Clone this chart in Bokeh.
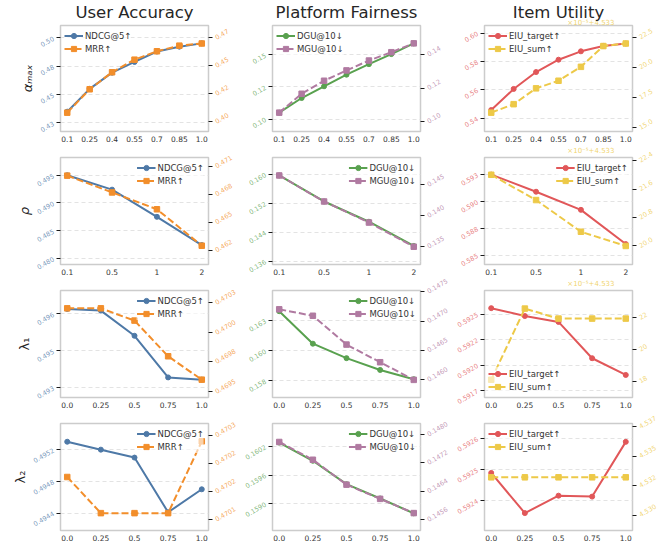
import math
from bokeh.plotting import figure
from bokeh.models import (Range1d, LinearAxis, FixedTicker, CustomJSTickFormatter,
                          Title, ColumnDataSource)
from bokeh.layouts import gridplot
from bokeh.embed import file_html
from bokeh.resources import INLINE

FONT = "DejaVu Sans"

# ---------------- text ----------------
col_titles = ["User Accuracy", "Platform Fairness", "Item Utility"]
row_labels = ["αₘₐₓ", "ρ", "λ₁", "λ₂"]
series_names = [("NDCG@5↑", "MRR↑"), ("DGU@10↓", "MGU@10↓"), ("EIU_target↑", "EIU_sum↑")]
offset_text = "×10⁻⁵+4.533"
eiu_sum_offset = 4.533
eiu_sum_scale = 1e-5

# ---------------- x values ----------------
alpha_x = [0.1, 0.25, 0.4, 0.55, 0.7, 0.85, 1.0]
alpha_x_labels = ["0.1", "0.25", "0.4", "0.55", "0.7", "0.85", "1.0"]
rho_x_labels = ["0.1", "0.5", "1", "2"]
lam_x = [0.0, 0.25, 0.5, 0.75, 1.0]
lam_x_labels = ["0.0", "0.25", "0.5", "0.75", "1.0"]

# ---------------- series values ----------------
alpha_ndcg = [0.4393, 0.4581, 0.4714, 0.4802, 0.4888, 0.4928, 0.4955]
alpha_mrr = [0.4076, 0.4271, 0.4413, 0.4518, 0.4588, 0.4635, 0.4653]
alpha_dgu = [0.1050, 0.1164, 0.1255, 0.1345, 0.1427, 0.1505, 0.1588]
alpha_mgu = [0.1053, 0.1166, 0.1244, 0.1306, 0.1365, 0.1415, 0.1468]
alpha_eiu_target = [0.5457, 0.5606, 0.5725, 0.5812, 0.5871, 0.5909, 0.5926]
alpha_eiu_sum = [4.5331626, 4.5331696, 4.5331827, 4.5331890, 4.5332005, 4.5332177, 4.5332198]

rho_ndcg = [0.4950, 0.4924, 0.4875, 0.4824]
rho_mrr = [0.4700, 0.4682, 0.4664, 0.4625]
rho_dgu = [0.1597, 0.1525, 0.1469, 0.1402]
rho_mgu = [0.1465, 0.1423, 0.1389, 0.1350]
rho_eiu_target = [0.5930, 0.5913, 0.5895, 0.5861]
rho_eiu_sum = [4.5332200, 4.5332129, 4.5332040, 4.5332000]

lam1_ndcg = [0.49618, 0.49612, 0.49523, 0.49376, 0.49368]
lam1_mrr = [0.47025, 0.47025, 0.47014, 0.46982, 0.46961]
lam1_dgu = [0.16378, 0.16108, 0.15988, 0.15890, 0.15813]
lam1_mgu = [0.14720, 0.14709, 0.14660, 0.14630, 0.14600]
lam1_eiu_target = [0.59256, 0.59248, 0.59242, 0.59205, 0.59188]
lam1_eiu_sum = [4.5331811, 4.5332259, 4.5332196, 4.5332196, 4.5332196]

lam2_ndcg = [0.49530, 0.49520, 0.49510, 0.49441, 0.49470]
lam2_mrr = [0.470211, 0.470134, 0.470134, 0.470134, 0.470287]
lam2_dgu = [0.16028, 0.15990, 0.15941, 0.15911, 0.15880]
lam2_mgu = [0.14779, 0.14729, 0.14659, 0.14619, 0.14579]
lam2_eiu_target = [0.592489, 0.592360, 0.592416, 0.592413, 0.592589]
lam2_eiu_sum = [4.5330, 4.5330, 4.5330, 4.5330, 4.5330]

# ---------------- y tick values / labels ----------------
alpha_ndcg_ticks = [0.43, 0.45333, 0.47667, 0.50]
alpha_ndcg_tick_labels = ["0.43", "0.45", "0.48", "0.50"]
alpha_mrr_ticks = [0.40, 0.42333, 0.44667, 0.47]
alpha_mrr_tick_labels = ["0.40", "0.42", "0.45", "0.47"]
alpha_dgu_ticks = [0.10, 0.125, 0.15]
alpha_dgu_tick_labels = ["0.10", "0.12", "0.15"]
alpha_mgu_ticks = [0.10, 0.12, 0.14]
alpha_mgu_tick_labels = ["0.10", "0.12", "0.14"]
alpha_eiut_ticks = [0.54, 0.56, 0.58, 0.60]
alpha_eiut_tick_labels = ["0.54", "0.56", "0.58", "0.60"]
alpha_eius_ticks = [15.0, 17.5, 20.0, 22.5]
alpha_eius_tick_labels = ["15.0", "17.5", "20.0", "22.5"]

rho_ndcg_ticks = [0.480, 0.485, 0.490, 0.495]
rho_ndcg_tick_labels = ["0.480", "0.485", "0.490", "0.495"]
rho_mrr_ticks = [0.462, 0.465, 0.468, 0.471]
rho_mrr_tick_labels = ["0.462", "0.465", "0.468", "0.471"]
rho_dgu_ticks = [0.136, 0.144, 0.152, 0.160]
rho_dgu_tick_labels = ["0.136", "0.144", "0.152", "0.160"]
rho_mgu_ticks = [0.135, 0.140, 0.145]
rho_mgu_tick_labels = ["0.135", "0.140", "0.145"]
rho_eiut_ticks = [0.585, 0.58767, 0.59033, 0.593]
rho_eiut_tick_labels = ["0.585", "0.588", "0.590", "0.593"]
rho_eius_ticks = [20.0, 20.8, 21.6, 22.4]
rho_eius_tick_labels = ["20.0", "20.8", "21.6", "22.4"]

lam1_ndcg_ticks = [0.4934, 0.4947, 0.4960]
lam1_ndcg_tick_labels = ["0.493", "0.495", "0.496"]
lam1_mrr_ticks = [0.4695, 0.46977, 0.47003, 0.4703]
lam1_mrr_tick_labels = ["0.4695", "0.4698", "0.4700", "0.4703"]
lam1_dgu_ticks = [0.158, 0.1605, 0.163]
lam1_dgu_tick_labels = ["0.158", "0.160", "0.163"]
lam1_mgu_ticks = [0.1460, 0.1465, 0.1470, 0.1475]
lam1_mgu_tick_labels = ["0.1460", "0.1465", "0.1470", "0.1475"]
lam1_eiut_ticks = [0.59172, 0.59198, 0.59224, 0.5925]
lam1_eiut_tick_labels = ["0.5917", "0.5920", "0.5922", "0.5925"]
lam1_eius_ticks = [18, 20, 22]
lam1_eius_tick_labels = ["18", "20", "22"]

lam2_ndcg_ticks = [0.4944, 0.4948, 0.4952]
lam2_ndcg_tick_labels = ["0.4944", "0.4948", "0.4952"]
lam2_mrr_ticks = [0.47012, 0.47018, 0.47024, 0.4703]
lam2_mrr_tick_labels = ["0.4701", "0.4702", "0.4702", "0.4703"]
lam2_dgu_ticks = [0.1590, 0.1596, 0.1602]
lam2_dgu_tick_labels = ["0.1590", "0.1596", "0.1602"]
lam2_mgu_ticks = [0.1456, 0.1464, 0.1472, 0.1480]
lam2_mgu_tick_labels = ["0.1456", "0.1464", "0.1472", "0.1480"]
lam2_eiut_ticks = [0.5924, 0.5925, 0.5926]
lam2_eiut_tick_labels = ["0.5924", "0.5925", "0.5926"]
lam2_eius_ticks = [4.530, 4.53233, 4.53467, 4.537]
lam2_eius_tick_labels = ["4.530", "4.532", "4.535", "4.537"]

# ---------------- styling ----------------
BLUE, ORANGE = "#4e79a7", "#f28e2b"
GREEN, PURPLE = "#59a14f", "#b07aa1"
RED, YELLOW = "#e15759", "#edc948"
col_colors = [(BLUE, ORANGE), (GREEN, PURPLE), (RED, YELLOW)]

FRAME_W = 148
frame_h = [106, 107, 107, 107]
border_left = [60, 31, 31]
border_right = [31, 31, 40]
border_top = [23, 13, 13, 13]
border_bottom = [13, 13, 13, 13]

row_x = [
    (alpha_x, alpha_x_labels, (0.055, 1.045)),
    (list(range(len(rho_x_labels))), rho_x_labels, (-0.15, 3.15)),
    (lam_x, lam_x_labels, (-0.05, 1.05)),
    (lam_x, lam_x_labels, (-0.05, 1.05)),
]

def sum_scaled(vals):
    return [(v - eiu_sum_offset) / eiu_sum_scale for v in vals]

# (y1, y2, ticks1, labels1, range1, ticks2, labels2, range2, legend location, offset)
panels = [
    [
        (alpha_ndcg, alpha_mrr, alpha_ndcg_ticks, alpha_ndcg_tick_labels, (0.423, 0.5102),
         alpha_mrr_ticks, alpha_mrr_tick_labels, (0.3919, 0.4803), "top_left", False),
        (alpha_dgu, alpha_mgu, alpha_dgu_ticks, alpha_dgu_tick_labels, (0.0904, 0.1727),
         alpha_mgu_ticks, alpha_mgu_tick_labels, (0.094, 0.1575), "top_left", False),
        (alpha_eiu_target, sum_scaled(alpha_eiu_sum), alpha_eiut_ticks, alpha_eiut_tick_labels, (0.5306, 0.6053),
         alpha_eius_ticks, alpha_eius_tick_labels, (14.70, 23.47), "top_left", True),
    ],
    [
        (rho_ndcg, rho_mrr, rho_ndcg_ticks, rho_ndcg_tick_labels, (0.4789, 0.4982),
         rho_mrr_ticks, rho_mrr_tick_labels, (0.46049, 0.47194), "top_right", False),
        (rho_dgu, rho_mgu, rho_dgu_ticks, rho_dgu_tick_labels, (0.13508, 0.16466),
         rho_mgu_ticks, rho_mgu_tick_labels, (0.13213, 0.1494), "top_right", False),
        (rho_eiu_target, sum_scaled(rho_eiu_sum), rho_eiut_ticks, rho_eiut_tick_labels, (0.58407, 0.5947),
         rho_eius_ticks, rho_eius_tick_labels, (19.48, 22.485), "top_right", True),
    ],
    [
        (lam1_ndcg, lam1_mrr, lam1_ndcg_ticks, lam1_ndcg_tick_labels, (0.49305, 0.49683),
         lam1_mrr_ticks, lam1_mrr_tick_labels, (0.46945, 0.47041), "top_right", False),
        (lam1_dgu, lam1_mgu, lam1_dgu_ticks, lam1_dgu_tick_labels, (0.15661, 0.1655),
         lam1_mgu_ticks, lam1_mgu_tick_labels, (0.1457, 0.14752), "top_right", False),
        (lam1_eiu_target, sum_scaled(lam1_eiu_sum), lam1_eiut_ticks, lam1_eiut_tick_labels, (0.59165, 0.59274),
         lam1_eius_ticks, lam1_eius_tick_labels, (16.99, 23.73), "bottom_left", True),
    ],
    [
        (lam2_ndcg, lam2_mrr, lam2_ndcg_ticks, lam2_ndcg_tick_labels, (0.49418, 0.49553),
         lam2_mrr_ticks, lam2_mrr_tick_labels, (0.470097, 0.470325), "top_right", False),
        (lam2_dgu, lam2_mgu, lam2_dgu_ticks, lam2_dgu_tick_labels, (0.15844, 0.16068),
         lam2_mgu_ticks, lam2_mgu_tick_labels, (0.1453, 0.14831), "top_right", False),
        (lam2_eiu_target, lam2_eiu_sum, lam2_eiut_ticks, lam2_eiut_tick_labels, (0.592304, 0.592648),
         lam2_eius_ticks, lam2_eius_tick_labels, (4.52878, 4.53727), "top_left", False),
    ],
]

JS = """
let best = 0, bd = Infinity;
for (let i = 0; i < vals.length; i++) {
  const d = Math.abs(vals[i] - tick);
  if (d < bd) { bd = d; best = i; }
}
return labs[best];
"""

def fmt(vals, labs):
    return CustomJSTickFormatter(args=dict(vals=list(vals), labs=list(labs)), code=JS)

def style_y(ax, color):
    ax.axis_line_color = None
    ax.major_tick_line_color = "#1a1a1a"
    ax.major_tick_line_width = 1
    ax.major_tick_out = 4
    ax.major_tick_in = 0
    ax.minor_tick_line_color = None
    ax.minor_tick_out = 0
    ax.minor_tick_in = 0
    ax.major_label_orientation = math.pi / 6
    ax.major_label_text_font = FONT
    ax.major_label_text_font_size = "6.5px"
    ax.major_label_text_color = color
    ax.major_label_text_alpha = 0.75
    ax.major_label_standoff = 3

def style_offset_title(t, color, show, standoff):
    t.text = offset_text if show else " "
    t.align = "right"
    t.vertical_align = "top"
    t.offset = 18
    t.standoff = standoff
    t.text_font = FONT
    t.text_font_size = "7px"
    t.text_font_style = "normal"
    t.text_color = color
    t.text_alpha = 0.8

figs = []
for r in range(4):
    xs, xlabels, xr = row_x[r]
    row_figs = []
    for c in range(3):
        y1, y2, t1, l1, r1, t2, l2, r2, loc, has_offset = panels[r][c]
        c1, c2 = col_colors[c]
        n1, n2 = series_names[c]
        p = figure(frame_width=FRAME_W, frame_height=frame_h[r],
                   x_range=Range1d(*xr), y_range=Range1d(*r1),
                   output_backend="svg", toolbar_location=None,
                   min_border_left=border_left[c], min_border_right=border_right[c],
                   min_border_top=border_top[r], min_border_bottom=border_bottom[r])
        p.extra_y_ranges = {"r": Range1d(*r2)}
        p.outline_line_color = "#cccccc"
        p.outline_line_width = 1.5
        p.background_fill_color = "white"
        p.border_fill_color = "white"

        # titles: column title (outermost) and offset text (next to frame)
        if r == 0:
            p.title.text = col_titles[c]
            p.title.align = "center"
            p.title.standoff = 0
            p.title.text_font = FONT
            p.title.text_font_size = "16.5px"
            p.title.text_font_style = "normal"
            p.title.text_color = "#262626"
            ot = Title(text=" ")
            style_offset_title(ot, c2, has_offset, -6)
            p.add_layout(ot, "above")
        elif has_offset:
            style_offset_title(p.title, c2, True, 2)

        # x axis
        xa = p.xaxis[0]
        xa.ticker = FixedTicker(ticks=list(xs))
        xa.formatter = fmt(xs, xlabels)
        xa.axis_line_color = None
        xa.major_tick_line_color = None
        xa.major_tick_out = 0
        xa.major_tick_in = 0
        xa.minor_tick_line_color = None
        xa.minor_tick_out = 0
        xa.minor_tick_in = 0
        xa.major_label_text_font = FONT
        xa.major_label_text_font_size = "7.5px"
        xa.major_label_text_color = "#333333"
        xa.major_label_standoff = 4

        # left axis
        la = p.yaxis[0]
        la.ticker = FixedTicker(ticks=list(t1))
        la.formatter = fmt(t1, l1)
        style_y(la, c1)
        if c == 0:
            la.axis_label = row_labels[r]
            la.axis_label_text_font = FONT
            la.axis_label_text_font_size = "13px"
            la.axis_label_text_font_style = "italic" if r < 2 else "normal"
            la.axis_label_text_color = "#262626"
            la.axis_label_standoff = 0

        # right axis
        ra = LinearAxis(y_range_name="r", ticker=FixedTicker(ticks=list(t2)),
                        formatter=fmt(t2, l2))
        style_y(ra, c2)
        p.add_layout(ra, "right")

        # grid
        p.xgrid.visible = False
        p.ygrid.ticker = FixedTicker(ticks=list(t1))
        p.ygrid.grid_line_color = "#e3e3e3"
        p.ygrid.grid_line_dash = "4 3"
        p.ygrid.grid_line_width = 1

        s1 = ColumnDataSource(dict(x=list(xs), y=list(y1)))
        s2 = ColumnDataSource(dict(x=list(xs), y=list(y2)))
        p.line("x", "y", source=s1, line_color=c1, line_width=2, legend_label=n1)
        p.scatter("x", "y", source=s1, marker="circle", size=5,
                  fill_color=c1, line_color=c1, legend_label=n1)
        p.line("x", "y", source=s2, line_color=c2, line_width=2, line_dash="7 3",
               y_range_name="r", legend_label=n2)
        p.scatter("x", "y", source=s2, marker="square", size=5.5,
                  fill_color=c2, line_color=c2, y_range_name="r", legend_label=n2)

        lg = p.legend[0]
        lg.location = loc
        lg.border_line_color = None
        lg.background_fill_color = "white"
        lg.background_fill_alpha = 0.6
        lg.label_text_font = FONT
        lg.label_text_font_size = "8.5px"
        lg.label_text_color = "#333333"
        lg.glyph_width = 19
        lg.glyph_height = 13
        lg.label_height = 13
        lg.label_standoff = 2
        lg.spacing = 0
        lg.padding = 4
        lg.margin = 4

        row_figs.append(p)
    figs.append(row_figs)

grid = gridplot(figs, toolbar_location=None)
open("out.html", "w").write(file_html(grid, INLINE))
